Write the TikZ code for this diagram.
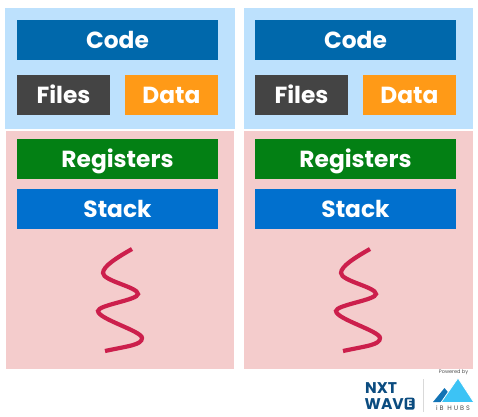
\documentclass[tikz,border=0pt]{standalone}
\usepackage{fontspec}
\setmainfont{Poppins}
\usetikzlibrary{positioning}
\definecolor{panelblue}{HTML}{BDE1FD}
\definecolor{panelpink}{HTML}{F4CCCC}
\definecolor{codeblue}{HTML}{0068AB}
\definecolor{filesgray}{HTML}{444444}
\definecolor{dataorange}{HTML}{FF9A17}
\definecolor{reggreen}{HTML}{038014}
\definecolor{stackblue}{HTML}{0170CE}
\definecolor{threadred}{HTML}{CC1F4C}
\definecolor{lognavy}{HTML}{0B4C80}
\definecolor{hubsky}{HTML}{3CC3F5}
\definecolor{hubdark}{HTML}{1273B5}
\tikzset{
  panel/.style={anchor=north west,inner sep=0pt,outer sep=0pt},
  wide/.style={text=white,font=\fontsize{23.3}{24}\selectfont\bfseries,anchor=north west,inner sep=0pt,outer sep=0pt,minimum width=201,minimum height=40,text height=16.5pt,text depth=0pt},
  half/.style={wide,minimum width=93},
  thread/.style={threadred,line width=4.2pt},
  logotext/.style={inner sep=0pt,lognavy,font=\fontsize{15.5}{16}\selectfont\bfseries,text height=12pt,text depth=0pt}
}
\begin{document}
\begin{tikzpicture}[x=1pt,y=-1pt]
\useasboundingbox (0,0) rectangle (478,416);
% left column
\node[panel,fill=panelblue,minimum width=230,minimum height=121] (shareda) at (5,7.5) {};
\node[panel,fill=panelpink,minimum width=228.5,minimum height=238] (owna) at (5.5,131) {};
\node[wide,fill=codeblue] (codea) at (17,20) {Code};
\node[half,fill=filesgray] (filesa) at (17,75) {Files};
\node[half,fill=dataorange] (dataa) at (125,75) {Data};
\node[wide,fill=reggreen] (regsa) at (17,139) {Registers};
\node[wide,fill=stackblue] (stacka) at (17,189) {Stack};
\draw[thread] (132,249) .. controls (118,257) and (103,266) .. (103,273) .. controls (103,281) and (138,287) .. (138,294) .. controls (138,300) and (98,305) .. (98,311) .. controls (98,319) and (142,331) .. (142,338) .. controls (142,345) and (128,346) .. (105,351);
% right column
\node[panel,fill=panelblue,minimum width=229,minimum height=121] (sharedb) at (244,7.5) {};
\node[panel,fill=panelpink,minimum width=229,minimum height=238] (ownb) at (244,131) {};
\node[wide,fill=codeblue] (codeb) at (255,20) {Code};
\node[half,fill=filesgray] (filesb) at (255,75) {Files};
\node[half,fill=dataorange] (datab) at (363,75) {Data};
\node[wide,fill=reggreen] (regsb) at (255,139) {Registers};
\node[wide,fill=stackblue] (stackb) at (255,189) {Stack};
\draw[thread] (370,249) .. controls (356,257) and (341,266) .. (341,273) .. controls (341,281) and (376,287) .. (376,294) .. controls (376,300) and (336,305) .. (336,311) .. controls (336,319) and (380,331) .. (380,338) .. controls (380,345) and (366,346) .. (343,351);
% logos
\node[logotext,anchor=north west] (nxt) at (365,381) {NXT};
\node[logotext,anchor=north west] (wav) at (364.5,397.5) {WAV};
\node[logotext,fill=lognavy,text=white,rounded corners=2pt,right=0.5pt of wav,font=\fontsize{11}{11}\selectfont\bfseries,text height=8pt,inner sep=2pt] (wavee) {E};
\draw[black!15] (423.5,379) -- (423.5,412);
\node[inner sep=0pt,black!70,font=\fontsize{5}{5}\selectfont] (powered) at (453.5,372) {Powered by};
\node[inner sep=0pt,black!70,font=\fontsize{6.5}{7}\selectfont\addfontfeature{LetterSpace=30}] (hubs) at (453,408) {iB HUBS};
\fill[hubdark] (433,402) -- (444.5,388) -- (452,397) -- (448,402) -- cycle;
\fill[hubsky,draw=white,line width=0.8pt] (441,402.5) -- (458,378) -- (474,402.5) -- cycle;
\end{tikzpicture}
\end{document}
